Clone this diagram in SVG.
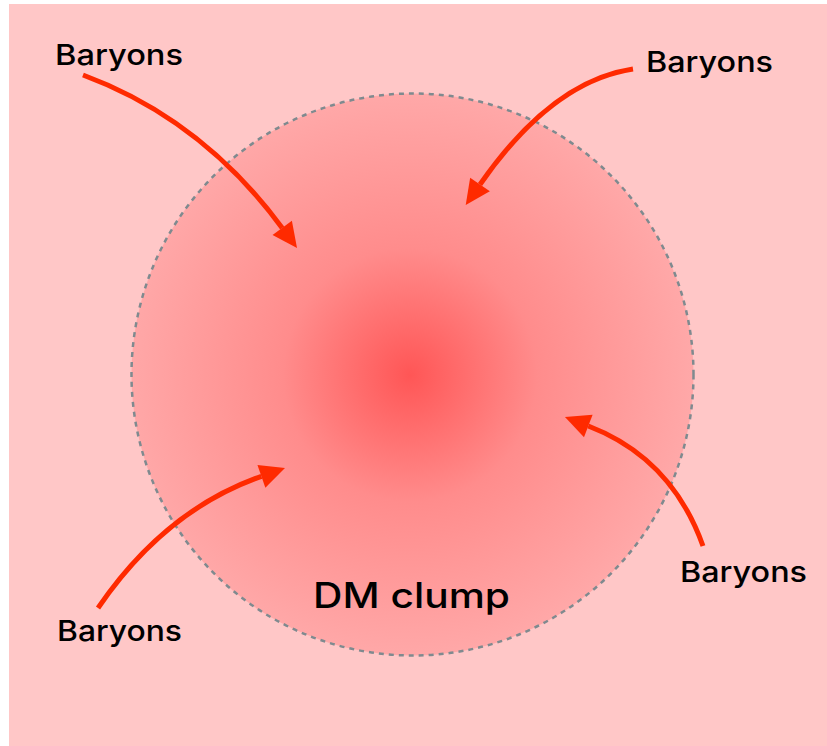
<svg xmlns="http://www.w3.org/2000/svg" width="827" height="746" viewBox="0 0 827 746">
  <style>
    .lbl { font-family: Inter, "Noto Sans", "Liberation Sans", sans-serif; font-weight: 500; font-size: 29px; fill: #000; }
    .big { font-size: 35px; }
    .arr { fill: none; stroke: #ff2a00; stroke-width: 5; marker-end: url(#head); }
  </style>
  <defs>
    <radialGradient id="clump" cx="410" cy="375" r="282" gradientUnits="userSpaceOnUse">
      <stop offset="0" stop-color="#ff5656"/>
      <stop offset="0.45" stop-color="#ff8c8c"/>
      <stop offset="1" stop-color="#ffa8a8"/>
    </radialGradient>
    <marker id="head" markerUnits="userSpaceOnUse" markerWidth="30" markerHeight="30" refX="0" refY="12" orient="auto" overflow="visible">
      <path d="M0,0 L25,12 L0,24 Z" fill="#ff2a00"/>
    </marker>
  </defs>
  <rect x="9" y="4" width="818" height="742" fill="#ffc7c7"/>
  <g id="dm-clump">
    <circle cx="412.5" cy="374.5" r="281" fill="url(#clump)" stroke="#7f8a8f" stroke-width="2.5" stroke-dasharray="5,5"/>
    <text class="lbl big" x="313" y="608" textLength="197" lengthAdjust="spacingAndGlyphs">DM clump</text>
  </g>
  <g id="baryons-tl"><text class="lbl" x="55" y="65" textLength="128" lengthAdjust="spacingAndGlyphs">Baryons</text></g>
  <g id="baryons-tr"><text class="lbl" x="646" y="72" textLength="127" lengthAdjust="spacingAndGlyphs">Baryons</text></g>
  <g id="baryons-bl"><text class="lbl" x="57" y="641" textLength="125" lengthAdjust="spacingAndGlyphs">Baryons</text></g>
  <g id="baryons-br"><text class="lbl" x="680" y="582" textLength="127" lengthAdjust="spacingAndGlyphs">Baryons</text></g>
  <g id="connectors">
    <path class="arr" d="M83,75 Q202,119 282.2,227.9"/>
    <path class="arr" d="M633,69 Q552,81 480,184.5"/>
    <path class="arr" d="M98,608 Q165,510 261.4,476.3"/>
    <path class="arr" d="M703,546 Q671.7,458 588.3,426"/>
  </g>
</svg>
